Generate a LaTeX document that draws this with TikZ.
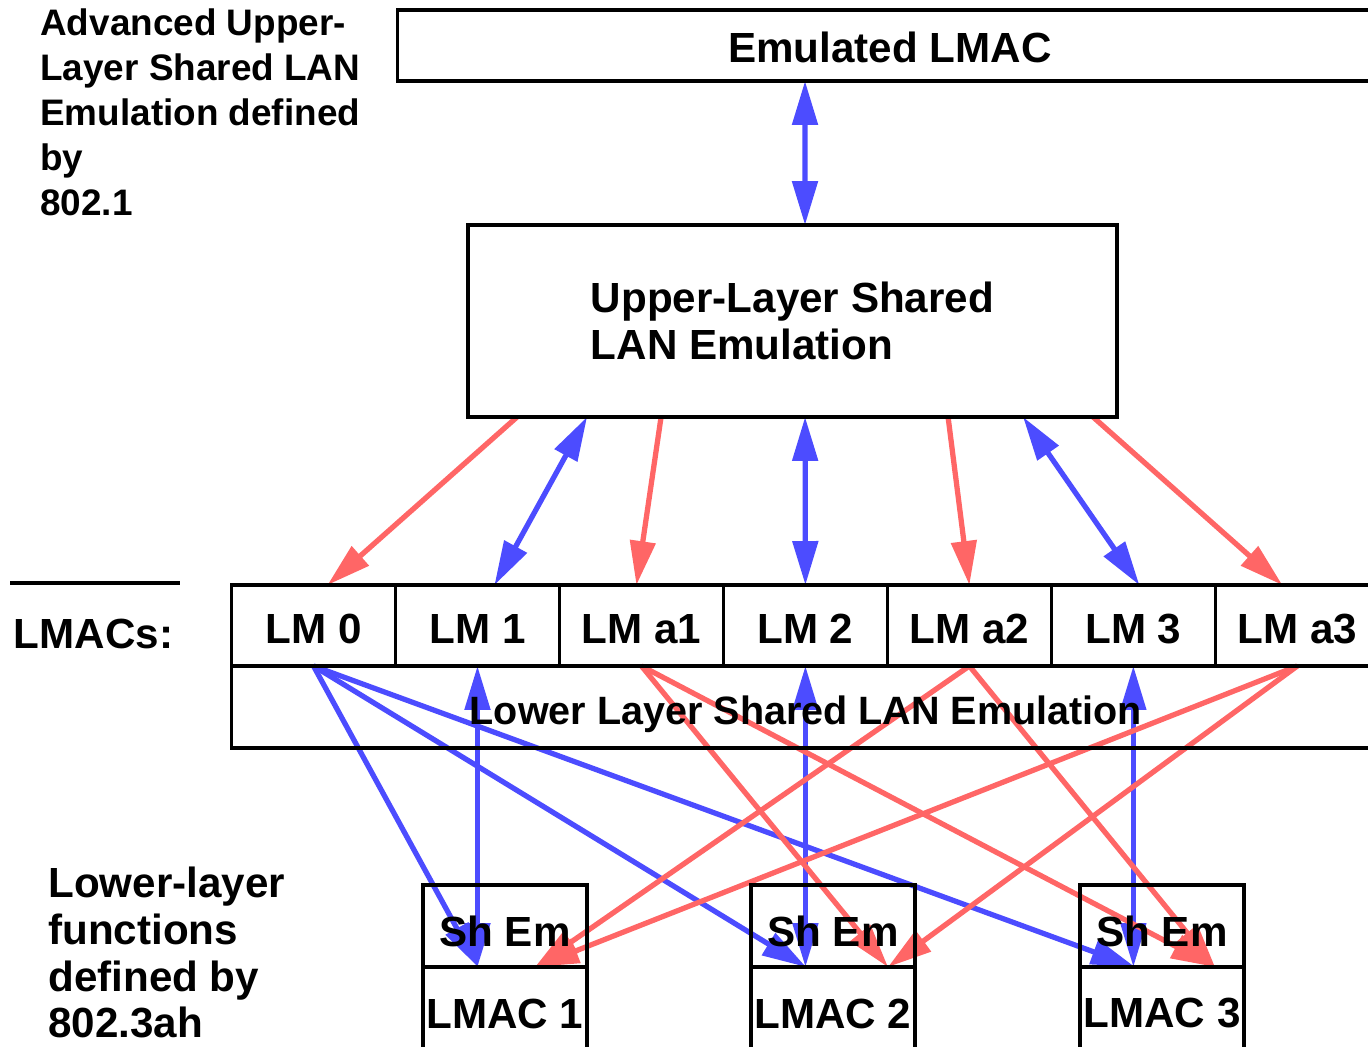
\documentclass[tikz,border=0pt]{standalone}
\usepackage{fontspec}
\setmainfont{Liberation Sans}
\usetikzlibrary{arrows.meta,positioning}
\definecolor{LinkBlue}{HTML}{4C4CFF}
\definecolor{LinkRed}{HTML}{FF6666}
\pgfdeclarelayer{links}
\pgfsetlayers{links,main}

\begin{document}
\begin{tikzpicture}[
    x=0.02cm, y=-0.02cm,
    node distance=0pt,
    box/.style={
      draw,
      line width=1.8pt,
      inner sep=0pt,
      outer sep=0pt,
      font=\fontsize{24}{26.7}\selectfont\bfseries
    },
    cell/.style={box, minimum width=3.28cm, minimum height=1.62cm, text height=21pt, text depth=0pt},
    shem/.style={box, minimum width=3.28cm, minimum height=1.64cm, text height=22.8pt, text depth=0pt},
    lmac/.style={box, minimum width=3.28cm, minimum height=1.86cm},
    note/.style={inner sep=0pt, align=left, anchor=west},
    bluelink/.style={-{Triangle[length=0.88cm, width=0.5cm]}, line width=3pt, draw=LinkBlue},
    bothlink/.style={{Triangle[length=0.88cm, width=0.5cm]}-{Triangle[length=0.88cm, width=0.5cm]}, line width=3pt, draw=LinkBlue},
    redlink/.style={-{Triangle[length=0.88cm, width=0.5cm]}, line width=3pt, draw=LinkRed}
  ]
    \useasboundingbox (0,0) rectangle (1368,1047);
    \clip (0,0) rectangle (1368,1047);

    % 802.1 part
    \node[note, font=\fontsize{21}{25.6}\selectfont\bfseries] (topnote) at (40,112)
      {Advanced Upper-\\Layer Shared LAN\\Emulation defined\\by\\802.1};
    \node[box, minimum width=19.72cm, minimum height=1.42cm, text height=19.4pt, text depth=0pt] (emul) at (890,45.5) {Emulated LMAC};
    \node[box, minimum width=12.98cm, minimum height=3.84cm, align=left] (upper) at (792.5,321)
      {Upper-Layer Shared\\LAN Emulation};

    % LMAC row
    \draw[line width=2.3pt] (10,583) -- (180,583);
    \node[box, draw=none, text height=21pt, text depth=0pt] (lmacs) at (93.5,630) {LMACs:};
    \node[cell] (lm0) at (313.5,625.5) {LM 0};
    \node[cell, right=of lm0] (lm1) {LM 1};
    \node[cell, right=of lm1] (lma1) {LM a1};
    \node[cell, right=of lma1] (lm2) {LM 2};
    \node[cell, right=of lm2] (lma2) {LM a2};
    \node[cell, right=of lma2] (lm3) {LM 3};
    \node[cell, right=of lm3] (lma3) {LM a3};
    \node[box, minimum width=22.98cm, minimum height=1.64cm, anchor=north west,
      text height=19.4pt, text depth=0pt,
      font=\fontsize{22.5}{26}\selectfont\bfseries] (lower) at (lm0.south west)
      {Lower Layer Shared LAN Emulation};

    % 802.3ah part
    \node[note, font=\fontsize{24}{26.7}\selectfont\bfseries] (lownote) at (48,952.5)
      {Lower-layer\\functions\\defined by\\802.3ah};
    \node[shem] (she1) at (505,926) {Sh Em};
    \node[lmac, below=of she1] (lmac1) {LMAC 1};
    \node[shem] (she2) at (833,926) {Sh Em};
    \node[lmac, below=of she2] (lmac2) {LMAC 2};
    \node[shem] (she3) at (1162,926) {Sh Em};
    \node[lmac, below=of she3] (lmac3) {LMAC 3};

    \coordinate (b1) at ([shift={(-27,0)}]she1.south);
    \coordinate (b2) at ([shift={(-27,0)}]she2.south);
    \coordinate (b3) at ([shift={(-27,0)}]she3.south);
    \coordinate (r1) at ([shift={(30,0)}]she1.south);
    \coordinate (r2) at ([shift={(55,0)}]she2.south);
    \coordinate (r3) at ([shift={(53,0)}]she3.south);

    \begin{pgfonlayer}{links}
      \draw[bothlink] ([shift={(-85,0)}]emul.south) -- ([shift={(12.5,0)}]upper.north);

      \draw[redlink] ([shift={(49,0)}]upper.south west) -- ([shift={(14,0)}]lm0.north);
      \draw[bothlink] ([shift={(119,0)}]upper.south west) -- ([shift={(17,0)}]lm1.north);
      \draw[redlink] ([shift={(193,0)}]upper.south west) -- ([shift={(-5,0)}]lma1.north);
      \draw[bothlink] ([shift={(337,0)}]upper.south west) -- (lm2.north);
      \draw[redlink] ([shift={(480,0)}]upper.south west) -- (lma2.north);
      \draw[bothlink] ([shift={(555,0)}]upper.south west) -- ([shift={(6,0)}]lm3.north);
      \draw[redlink] ([shift={(625,0)}]upper.south west) -- ([shift={(-15,0)}]lma3.north);

      \foreach \k in {1,2,3}
        \draw[bluelink] (lm0.south) -- (b\k);
      \draw[bothlink] (lm1.south) -- (lm1.south |- she1.south);
      \draw[bothlink] (lm2.south) -- (lm2.south |- she2.south);
      \draw[bothlink] (lm3.south) -- (lm3.south |- she3.south);

      \draw[redlink] (lma1.south) -- (r2);
      \draw[redlink] (lma1.south) -- (r3);
      \draw[redlink] (lma2.south) -- (r1);
      \draw[redlink] (lma2.south) -- (r3);
      \draw[redlink] (lma3.south) -- (r1);
      \draw[redlink] (lma3.south) -- (r2);
    \end{pgfonlayer}
  \end{tikzpicture}
\end{document}
